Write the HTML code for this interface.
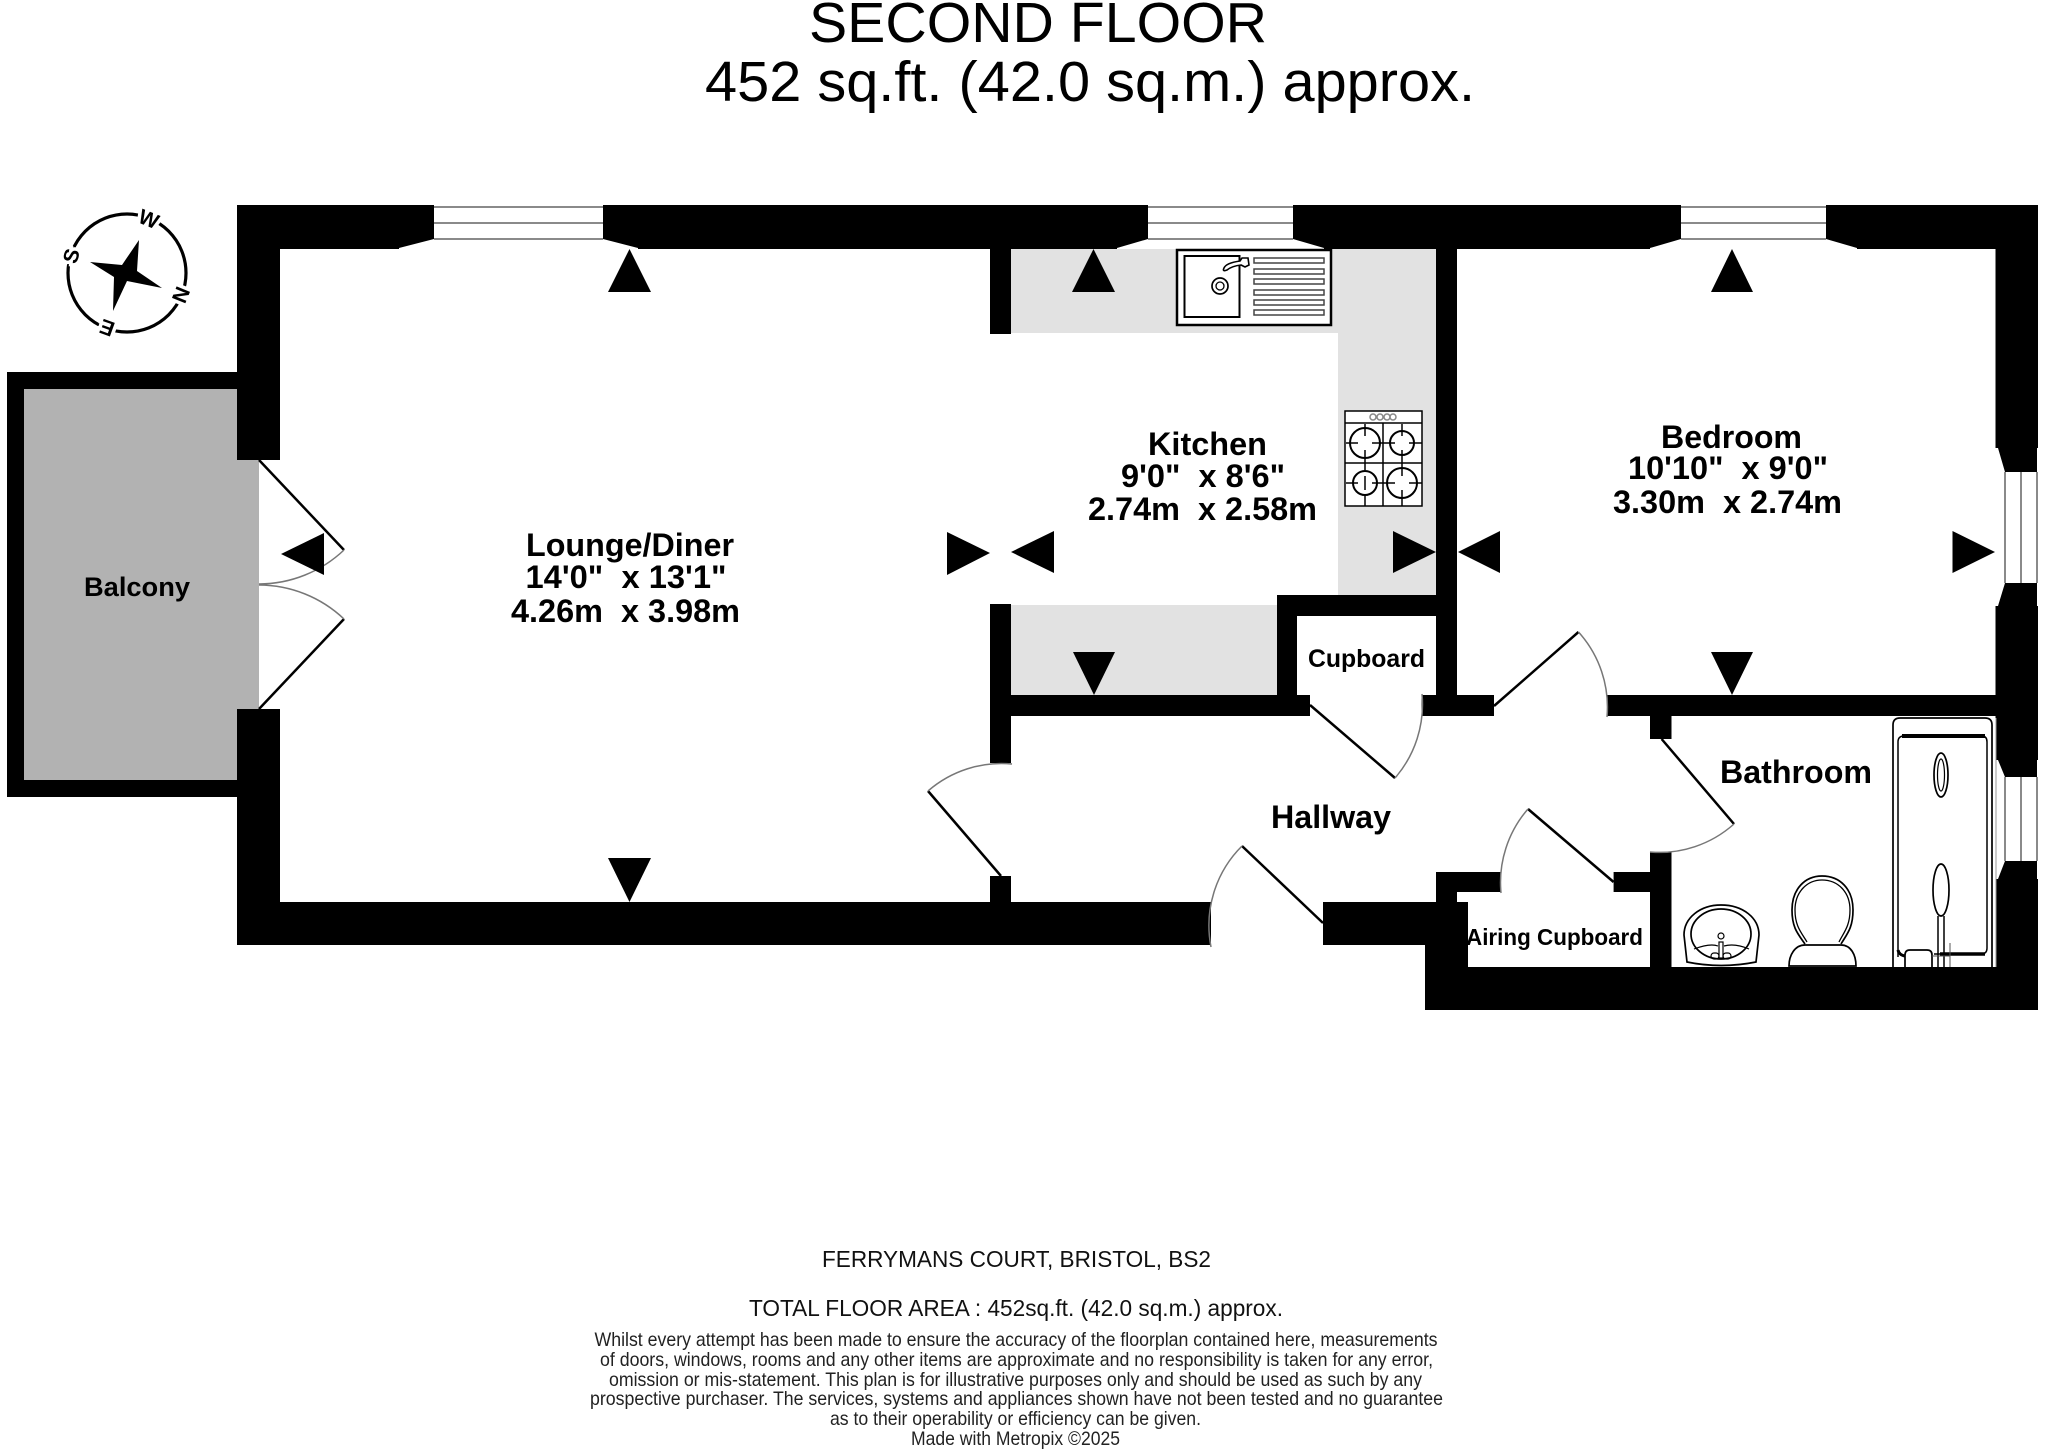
<!DOCTYPE html>
<html><head><meta charset="utf-8"><style>
html,body{margin:0;padding:0;background:#fff}
svg{display:block}
text{font-family:"Liberation Sans",sans-serif;fill:#000}
.b{font-weight:bold;font-size:32px}
</style></head><body>
<svg width="2048" height="1449" viewBox="0 0 2048 1449" xmlns="http://www.w3.org/2000/svg">
<rect width="2048" height="1449" fill="#fff"/>
<!-- fills -->
<path d="M1011 249H1436V595H1338V333H1011Z" fill="#e2e2e2"/>
<rect x="1011" y="605" width="266" height="90" fill="#e2e2e2"/>
<rect x="7" y="372" width="240" height="425" fill="#000"/>
<rect x="24" y="389" width="213" height="391" fill="#b2b2b2"/>
<rect x="237" y="460" width="22" height="249" fill="#b2b2b2"/>
<!-- walls -->
<g fill="#000">
<rect x="237" y="205" width="162" height="44"/>
<rect x="638" y="205" width="479" height="44"/>
<rect x="1324" y="205" width="326" height="44"/>
<rect x="1857" y="205" width="181" height="44"/>
<rect x="237" y="205" width="43" height="255"/>
<rect x="237" y="709" width="43" height="236"/>
<rect x="237" y="902" width="974" height="43"/>
<rect x="1323" y="902" width="145" height="43"/>
<rect x="1425" y="902" width="43" height="108"/>
<rect x="1425" y="967" width="613" height="43"/>
<rect x="1995.5" y="205" width="42.5" height="243"/>
<rect x="1995.5" y="606" width="42.5" height="154"/>
<rect x="1995.5" y="879" width="42.5" height="131"/>
<rect x="990" y="205" width="21" height="129"/>
<rect x="990" y="604" width="21" height="159"/>
<rect x="990" y="876" width="21" height="30"/>
<rect x="1436" y="205" width="21" height="511"/>
<rect x="1277" y="595" width="160" height="21"/>
<rect x="1277" y="595" width="20" height="121"/>
<rect x="990" y="695" width="320" height="21"/>
<rect x="1421.5" y="695" width="72.5" height="21"/>
<rect x="1607" y="695" width="388.5" height="21"/>
<rect x="1650" y="695" width="21.5" height="44"/>
<rect x="1650" y="852" width="21.5" height="120"/>
<rect x="1613.6" y="872" width="37" height="20"/>
<rect x="1436" y="872" width="65" height="20"/>
<rect x="1436" y="872" width="21" height="35"/>
<!-- window reveals -->
<path d="M399 205H434V239L399 248Z"/>
<path d="M603 205H638V248L603 239Z"/>
<path d="M1117 205H1148V239L1117 248Z"/>
<path d="M1293 205H1324V248L1293 239Z"/>
<path d="M1650 205H1681V239L1650 248Z"/>
<path d="M1826 205H1857V248L1826 239Z"/>
<path d="M1998 448H2037V472H2005Z"/>
<path d="M2005 583H2037V606H1998Z"/>
<path d="M1998 760H2037V777H2005Z"/>
<path d="M2005 861H2037V879H1998Z"/>
</g>
<!-- windows -->
<g stroke="#8a8a8a" stroke-width="2" fill="none">
<path d="M434 207H603M434 223H603M434 239H603"/>
<path d="M1148 207H1293M1148 223H1293M1148 239H1293"/>
<path d="M1681 207H1826M1681 223H1826M1681 239H1826"/>
<path d="M2005 472V583M2021 472V583M2037 472V583"/>
<path d="M2005 777V861M2021 777V861M2037 777V861"/>
</g>
<!-- doors -->
<g fill="none" stroke="#000" stroke-width="2.5">
<path d="M259 460L344 550"/>
<path d="M259 709L344 619"/>
<path d="M1001 876L928 791"/>
<path d="M1323 923L1242 846"/>
<path d="M1310 705L1395 778"/>
<path d="M1494 706L1578.5 632"/>
<path d="M1661.6 739L1734 824"/>
<path d="M1613.6 882L1528 809"/>
</g>
<g fill="none" stroke="#777" stroke-width="1.5">
<path d="M344 550A124 124 0 0 1 259 584"/>
<path d="M259 585A124 124 0 0 1 344 619"/>
<path d="M928 791A112 112 0 0 1 1012 764"/>
<path d="M1242 846A112 112 0 0 0 1211 947"/>
<path d="M1395 778A112 112 0 0 0 1422 694"/>
<path d="M1578.5 632A112 112 0 0 1 1607 717"/>
<path d="M1734 824A112 112 0 0 1 1650 852"/>
<path d="M1528 809A112 112 0 0 0 1501 893"/>
</g>
<!-- triangles -->
<g fill="#000">
<path d="M629.5 249L651 292H608Z"/>
<path d="M629.5 902L651 858H608Z"/>
<path d="M281 554L324 533V575Z"/>
<path d="M990 553L947 532V575Z"/>
<path d="M1093.5 249L1115 292H1072Z"/>
<path d="M1094 695L1115 652H1073Z"/>
<path d="M1011 552L1054 531V573Z"/>
<path d="M1436 552L1393 531V573Z"/>
<path d="M1732 249L1753 292H1711Z"/>
<path d="M1732 695L1753 652H1711Z"/>
<path d="M1458 552L1500 531V573Z"/>
<path d="M1995 552L1952.5 531V573Z"/>
</g>
<!-- sink -->
<g fill="none" stroke="#000">
<rect x="1177" y="250" width="154" height="75" fill="#fff" stroke-width="2.5"/>
<rect x="1184.5" y="256" width="55" height="61" stroke-width="2"/>
<g stroke="#444" stroke-width="1.5" fill="#fff">
<rect x="1254" y="258" width="70" height="5"/>
<rect x="1254" y="269" width="70" height="5"/>
<rect x="1254" y="279" width="70" height="5"/>
<rect x="1254" y="290" width="70" height="5"/>
<rect x="1254" y="300" width="70" height="5"/>
<rect x="1254" y="310" width="70" height="5"/>
</g>
<circle cx="1220" cy="286" r="8" stroke-width="1.7"/>
<circle cx="1220" cy="286" r="4" stroke-width="1.3"/>
<path d="M1224 268Q1226 263 1240 261L1242 258H1248L1249 265L1245 267L1241 265Q1232 266 1227 270Q1222 272 1224 268Z" fill="#fff" stroke-width="1.6"/>
</g>
<!-- hob -->
<g fill="none" stroke="#000" stroke-width="1.5">
<rect x="1345" y="411" width="77" height="95" fill="#fff"/>
<path d="M1345 423H1422M1383 423V506M1345 463H1422"/>
<g stroke-width="2"><circle cx="1365" cy="443" r="15"/><circle cx="1402" cy="443" r="12"/><circle cx="1365" cy="483" r="12"/><circle cx="1402" cy="483" r="15"/></g>
<path d="M1365 424V436M1365 450V470M1365 476V490M1365 495V506M1346 443H1358M1372 443H1395M1409 443H1422M1346 483H1358M1372 483H1395M1409 483H1422M1402 424V436M1402 450V476M1402 490V506"/>
<g stroke="#888"><circle cx="1373" cy="417" r="3"/><circle cx="1380" cy="417" r="3"/><circle cx="1387" cy="417" r="3"/><circle cx="1393" cy="417" r="3"/></g>
</g>
<!-- basin -->
<g fill="none" stroke="#000" stroke-width="1.7">
<path d="M1687 962L1684 935C1684 918 1700 905 1721 905C1743 905 1759 918 1759 935L1756 962Q1721 969 1687 962Z"/>
<ellipse cx="1721" cy="934" rx="30" ry="25"/>
<path d="M1694 949Q1710 943 1718 946M1724 946Q1735 943 1749 949" stroke-width="1.2"/>
<circle cx="1721" cy="936" r="3" stroke-width="1.2"/>
<rect x="1719" y="942" width="4" height="16" stroke-width="1.2"/>
<rect x="1711" y="953" width="8" height="6" rx="3" stroke-width="1.2"/>
<rect x="1723" y="953" width="8" height="6" rx="3" stroke-width="1.2"/>
<!-- toilet -->
<path d="M1805 944C1798 934 1792 928 1792 910C1792 889 1805 876 1822 876C1840 876 1853 889 1853 910C1853 928 1847 934 1841 944"/>
<path d="M1807 942C1801 932 1795 926 1795 910C1795 892 1807 880 1822 880C1838 880 1850 892 1850 910C1850 926 1844 932 1839 942" stroke-width="1.3"/>
<path d="M1789 966C1789 955 1795 945 1805 945H1841C1851 945 1856 955 1856 966Z"/>
<!-- bath -->
<path d="M1893 967V725Q1893 718 1900 718H1985Q1992 718 1992 725V967" stroke-width="1.7"/>
<path d="M1898 957V742Q1898 736 1904 736H1982Q1987 736 1987 742V948Q1987 954 1981 954H1934" stroke-width="1.5"/>
<path d="M1902 736H1985" stroke-width="4"/>
<path d="M1940 954H1985" stroke-width="3.5"/>
<path d="M1898 950Q1899 955 1905 956" stroke-width="3"/>
<path d="M1905 967V955Q1905 950 1910 950H1927Q1932 950 1932 955V967" stroke-width="1.7"/>
<path d="M1996 718V967" stroke="#999" stroke-width="1"/>
<ellipse cx="1941" cy="775" rx="7" ry="22" stroke-width="1.7"/>
<ellipse cx="1941" cy="775" rx="3.5" ry="16" stroke-width="1.2"/>
<ellipse cx="1941" cy="890" rx="8" ry="26" stroke-width="1.7"/>
<path d="M1938 916V967M1944 916V967" stroke-width="1.5"/>
<path d="M1950 943V967M1932 956H1950" stroke="#555" stroke-width="1"/>
</g>
<!-- compass -->
<circle cx="127" cy="273" r="59" fill="none" stroke="#000" stroke-width="3.2"/>
<path d="M139 240L137 271L162 288L127 281L113 311L114 277L90 262L122 265Z" fill="#000"/>
<g text-anchor="middle" style="font-weight:bold;font-size:21px;paint-order:stroke" stroke="#fff" stroke-width="7">
<text x="127" y="222" transform="rotate(22 127 273)">W</text>
<text x="127" y="222" transform="rotate(112 127 273)">N</text>
<text x="127" y="222" transform="rotate(200 127 273)">E</text>
<text x="127" y="222" transform="rotate(287 127 273)">S</text>
</g>
<!-- labels -->
<text class="b" x="526" y="556" textLength="208" lengthAdjust="spacingAndGlyphs">Lounge/Diner</text>
<text class="b" x="525.5" y="588" textLength="201" lengthAdjust="spacingAndGlyphs" xml:space="preserve">14'0"  x 13'1"</text>
<text class="b" x="511" y="622" textLength="229" lengthAdjust="spacingAndGlyphs" xml:space="preserve">4.26m  x 3.98m</text>
<text class="b" x="1148" y="455" textLength="119" lengthAdjust="spacingAndGlyphs">Kitchen</text>
<text class="b" x="1121" y="487" textLength="164" lengthAdjust="spacingAndGlyphs" xml:space="preserve">9'0"  x 8'6"</text>
<text class="b" x="1088" y="520" textLength="229" lengthAdjust="spacingAndGlyphs" xml:space="preserve">2.74m  x 2.58m</text>
<text class="b" x="1661" y="448" textLength="141" lengthAdjust="spacingAndGlyphs">Bedroom</text>
<text class="b" x="1628" y="479" textLength="200" lengthAdjust="spacingAndGlyphs" xml:space="preserve">10'10"  x 9'0"</text>
<text class="b" x="1613" y="513" textLength="229" lengthAdjust="spacingAndGlyphs" xml:space="preserve">3.30m  x 2.74m</text>
<text class="b" x="1271" y="828" textLength="120" lengthAdjust="spacingAndGlyphs">Hallway</text>
<text class="b" x="1720" y="783" textLength="152" lengthAdjust="spacingAndGlyphs">Bathroom</text>
<text x="84" y="596" textLength="106" lengthAdjust="spacingAndGlyphs" style="font-weight:bold;font-size:27px">Balcony</text>
<text x="1308" y="667" textLength="117" lengthAdjust="spacingAndGlyphs" style="font-weight:bold;font-size:25px">Cupboard</text>
<text x="1466" y="945" textLength="177" lengthAdjust="spacingAndGlyphs" style="font-weight:bold;font-size:23px">Airing Cupboard</text>
<!-- title -->
<text x="809" y="42" textLength="458" lengthAdjust="spacingAndGlyphs" style="font-size:57px">SECOND FLOOR</text>
<text x="705" y="101" textLength="770" lengthAdjust="spacingAndGlyphs" style="font-size:57px">452 sq.ft. (42.0 sq.m.) approx.</text>
<!-- footer -->
<text x="822" y="1267" textLength="389" lengthAdjust="spacingAndGlyphs" style="font-size:23px;fill:#111">FERRYMANS COURT, BRISTOL, BS2</text>
<text x="749" y="1316" textLength="534" lengthAdjust="spacingAndGlyphs" style="font-size:23px;fill:#111">TOTAL FLOOR AREA : 452sq.ft. (42.0 sq.m.) approx.</text>
<g style="font-size:19.5px">
<text x="594.5" y="1346" textLength="843" lengthAdjust="spacingAndGlyphs" style="fill:#222">Whilst every attempt has been made to ensure the accuracy of the floorplan contained here, measurements</text>
<text x="600" y="1366" textLength="833" lengthAdjust="spacingAndGlyphs" style="fill:#222">of doors, windows, rooms and any other items are approximate and no responsibility is taken for any error,</text>
<text x="609" y="1386" textLength="813" lengthAdjust="spacingAndGlyphs" style="fill:#222">omission or mis-statement. This plan is for illustrative purposes only and should be used as such by any</text>
<text x="590" y="1405" textLength="853" lengthAdjust="spacingAndGlyphs" style="fill:#222">prospective purchaser. The services, systems and appliances shown have not been tested and no guarantee</text>
<text x="830" y="1425" textLength="371" lengthAdjust="spacingAndGlyphs" style="fill:#222">as to their operability or efficiency can be given.</text>
<text x="911" y="1445" textLength="209" lengthAdjust="spacingAndGlyphs" style="fill:#222">Made with Metropix ©2025</text>
</g>
</svg>
</body></html>
